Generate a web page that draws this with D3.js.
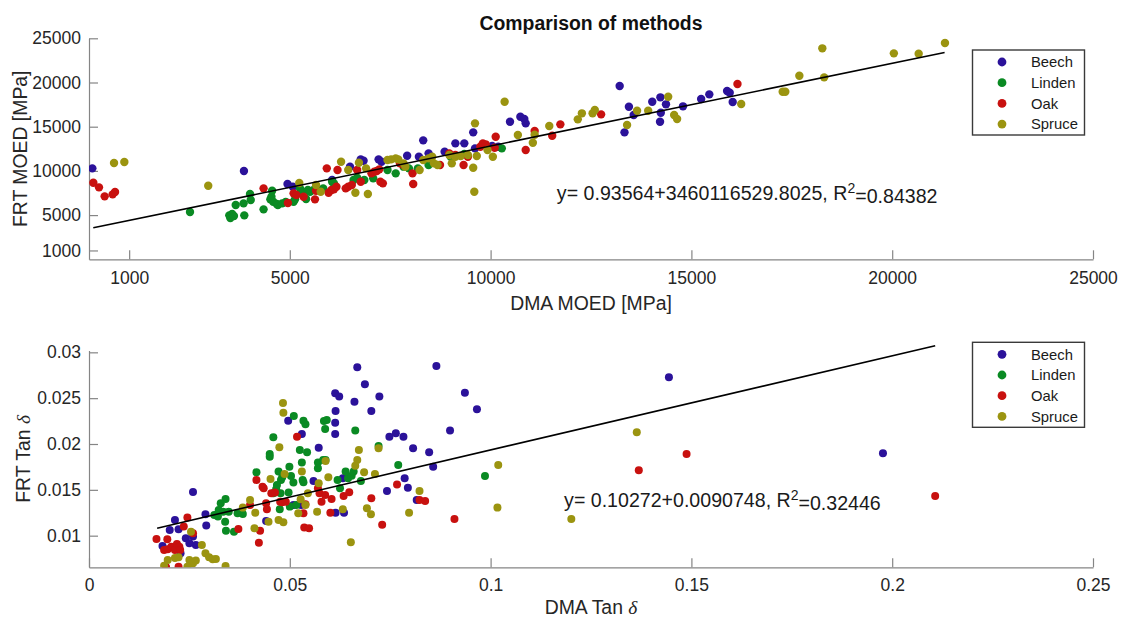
<!DOCTYPE html>
<meta charset="utf-8">
<style>
body { margin: 0; background: #fff; }
svg { font-family: "Liberation Sans", Arial, Helvetica, sans-serif; }
.axis path, .axis line { stroke: #858585; stroke-width: 1.2px; fill: none; }
.axis text { fill: #262626; font-size: 17.5px; }
.lab { fill: #262626; font-size: 19.4px; }
.eq { fill: #1a1a1a; font-size: 19.6px; }
.fit { stroke: #000; stroke-width: 1.6px; fill: none; }
.legend rect { fill: #fff; stroke: #3a3a3a; stroke-width: 1.4px; }
.legend text { fill: #1a1a1a; font-size: 14.8px; }
</style>
<body>
<script src="https://cdn.jsdelivr.net/npm/d3@7"></script>
<script>

var species = ["Beech", "Linden", "Oak", "Spruce"];
var colors = ["#2b129a", "#0a8a23", "#c8110f", "#9b9410"];

// DMA MOED vs FRT MOED [MPa]
var moedBeech = [[83,10288],[3858,9987],[4943,8516],[5076,8215],[6054,8969],[6499,10478],[6766,11306],[6837,11155],[7211,11306],[7282,11043],[7922,11721],[8215,11608],[8322,13456],[8456,11985],[8856,12174],[9123,13117],[9345,13117],[9567,14361],[9612,12551],[10039,12815],[10190,12739],[10483,15568],[10741,16134],[10839,15870],[10874,15379],[13214,19603],[13334,14361],[13444,17265],[13564,16322],[14025,17830],[14228,18321],[14238,16586],[14219,15568],[14367,17529],[14791,17303],[15243,18132],[15446,18660],[15889,19037],[15954,18849],[16028,17793]];
var moedLinden = [[2515,5348],[3493,4971],[3520,4670],[3564,5122],[3609,4896],[3653,6140],[3849,6329],[3867,4971],[4009,7385],[4027,6706],[4347,5650],[4516,6781],[4560,7762],[4587,6517],[4543,7083],[4676,6253],[4703,6140],[4809,6329],[4898,6479],[5094,6517],[5130,6781],[5254,8026],[5299,7649],[5405,6819],[5450,7838],[5503,7649],[5592,7838],[5743,7838],[5832,8026],[6054,8780],[6099,8592],[6588,8969],[6677,9232],[6855,8969],[7077,9157],[7433,10100],[7637,9723],[7833,10478],[7966,10288],[8189,10288],[8456,10665],[9007,11608],[9345,11910],[10279,12551]];
var moedOak = [[108,8667],[249,8139],[390,7121],[589,7347],[648,7611],[4347,8026],[4952,6366],[5094,7460],[5165,7272],[5343,7083],[5627,6781],[5654,7762],[5921,10288],[5966,7536],[6037,7838],[6099,7913],[6161,8215],[6188,10100],[6392,8026],[6455,8215],[6544,8403],[6677,10100],[6766,8780],[7033,9723],[7104,9911],[7166,9987],[7228,10175],[7255,8780],[7317,8592],[7744,10854],[7833,10665],[8056,9723],[8073,8516],[8740,10665],[8972,11985],[9123,11797],[9327,10665],[9434,11608],[9745,12739],[9807,13117],[9878,13004],[10127,13871],[10101,12626],[10874,12362],[11097,14512],[11534,13984],[11737,15266],[12752,16397],[16147,19829]];
var moedSpruce = [[623,10892],[880,11005],[2969,8328],[5236,8629],[5654,8403],[5770,7649],[6277,11043],[6455,10100],[6633,7536],[6721,10930],[6899,10288],[6944,7385],[7433,11231],[7522,11306],[7637,11420],[7700,11306],[7833,10854],[7878,10478],[8233,10100],[8322,11231],[8456,11420],[8545,11608],[8589,10854],[8678,10665],[8972,11797],[9034,10854],[9123,11608],[9256,11684],[9434,11797],[9567,10364],[9594,7649],[9612,15379],[9656,11684],[9923,12362],[10056,11608],[10349,17830],[10679,14060],[11052,13192],[11097,14097],[11461,15078],[12171,15832],[12273,16511],[12540,16511],[12595,16888],[13398,15191],[13647,16812],[13924,16812],[14422,18396],[14570,16322],[14644,15870],[16240,17566],[17273,18962],[17338,18962],[17688,20772],[18260,23864],[18306,20583],[20041,23298],[20659,23261],[21314,24467]];

// DMA Tan delta vs FRT Tan delta
var tanBeech = [[0.0668,0.02837],[0.0865,0.02851],[0.0687,0.02651],[0.0613,0.02553],[0.0623,0.02517],[0.0723,0.02517],[0.0661,0.02462],[0.0936,0.02560],[0.0966,0.02379],[0.0703,0.02360],[0.0614,0.02360],[0.0496,0.02255],[0.0530,0.02109],[0.0613,0.02233],[0.0613,0.02109],[0.0572,0.01960],[0.0899,0.02146],[0.0748,0.02080],[0.0764,0.02117],[0.0783,0.02080],[0.0807,0.01953],[0.0847,0.01910],[0.0857,0.01753],[0.0786,0.01626],[0.0794,0.01524],[0.0742,0.01488],[0.0816,0.01390],[0.0559,0.01597],[0.0632,0.01626],[0.0614,0.01251],[0.0635,0.01251],[0.0509,0.01335],[0.0528,0.01335],[0.0441,0.01160],[0.0290,0.01233],[0.0292,0.01110],[0.0259,0.01477],[0.0214,0.01171],[0.0201,0.01062],[0.0223,0.01070],[0.0241,0.00971],[0.0259,0.00990],[0.0183,0.00888],[0.0266,0.00899],[0.0250,0.00917],[0.0228,0.00808],[0.1444,0.02728],[0.1977,0.01898]];
var tanLinden = [[0.0510,0.02306],[0.0534,0.02255],[0.0539,0.02215],[0.0585,0.02251],[0.0592,0.02262],[0.0588,0.02164],[0.0663,0.02146],[0.0459,0.02073],[0.0450,0.01891],[0.0450,0.01862],[0.0499,0.01753],[0.0543,0.01910],[0.0525,0.01935],[0.0530,0.01797],[0.0570,0.01797],[0.0570,0.01735],[0.0583,0.01826],[0.0589,0.01826],[0.0417,0.01691],[0.0472,0.01699],[0.0481,0.01637],[0.0478,0.01608],[0.0503,0.01651],[0.0509,0.01579],[0.0468,0.01553],[0.0466,0.01506],[0.0459,0.01462],[0.0477,0.01462],[0.0497,0.01470],[0.0532,0.01608],[0.0534,0.01582],[0.0619,0.01608],[0.0625,0.01517],[0.0645,0.01626],[0.0654,0.01655],[0.0659,0.01699],[0.0721,0.01979],[0.0770,0.01771],[0.0986,0.01651],[0.0340,0.01400],[0.0328,0.01353],[0.0312,0.01226],[0.0321,0.01208],[0.0323,0.01281],[0.0334,0.01262],[0.0348,0.01262],[0.0370,0.01244],[0.0383,0.01237],[0.0339,0.01153],[0.0341,0.01055],[0.0361,0.01044],[0.0475,0.01288],[0.0500,0.01317],[0.0516,0.01335],[0.0639,0.01699],[0.0677,0.01597]];
var tanOak = [[0.0518,0.02080],[0.0417,0.01608],[0.0432,0.01535],[0.0435,0.01517],[0.0454,0.01462],[0.0463,0.01470],[0.0441,0.01353],[0.0443,0.01288],[0.0476,0.01371],[0.0481,0.01364],[0.0490,0.01371],[0.0534,0.01244],[0.0539,0.01342],[0.0536,0.01088],[0.0548,0.01080],[0.0570,0.01517],[0.0574,0.01462],[0.0579,0.01371],[0.0588,0.01444],[0.0604,0.01400],[0.0601,0.01251],[0.0634,0.01433],[0.0648,0.01473],[0.0703,0.01408],[0.0730,0.01120],[0.0767,0.01557],[0.0823,0.01390],[0.0837,0.01379],[0.0910,0.01182],[0.0372,0.01073],[0.0401,0.01335],[0.0426,0.01055],[0.0423,0.00924],[0.0245,0.01197],[0.0236,0.01099],[0.0168,0.00964],[0.0195,0.00961],[0.0187,0.00844],[0.0196,0.00852],[0.0205,0.00880],[0.0214,0.00844],[0.0219,0.00910],[0.0225,0.00880],[0.0227,0.00844],[0.0192,0.00655],[0.0223,0.00660],[0.0259,0.01026],[0.1369,0.01713],[0.1488,0.01891],[0.2107,0.01433]];
var tanSpruce = [[0.0483,0.02448],[0.0484,0.02342],[0.0474,0.01964],[0.0672,0.01935],[0.0668,0.01826],[0.0663,0.01764],[0.0721,0.01953],[0.0685,0.01691],[0.0712,0.01673],[0.0589,0.01815],[0.0596,0.01637],[0.0572,0.01571],[0.0568,0.01262],[0.0545,0.01462],[0.0539,0.01335],[0.0521,0.01244],[0.0527,0.01397],[0.0530,0.01699],[0.0487,0.01673],[0.0452,0.01619],[0.0401,0.01390],[0.0383,0.01306],[0.0414,0.01251],[0.0412,0.01080],[0.0447,0.01153],[0.0472,0.01171],[0.0484,0.01146],[0.0632,0.01288],[0.0692,0.01299],[0.0702,0.01233],[0.0797,0.01251],[0.0823,0.01488],[0.1019,0.01771],[0.1017,0.01306],[0.0652,0.00928],[0.0281,0.00899],[0.0290,0.00808],[0.0299,0.00764],[0.0308,0.00742],[0.0316,0.00746],[0.0214,0.00757],[0.0196,0.00735],[0.0187,0.00673],[0.0250,0.00735],[0.0259,0.00699],[0.0266,0.00728],[0.0245,0.00662],[0.0340,0.00670],[0.0254,0.01044],[0.0223,0.00764],[0.1364,0.02128],[0.1201,0.01182]];

// fitted lines: [slope, intercept], and the x span they cover
var moedFit = [0.93564, 3460], moedFitX = [107, 21305];
var tanFit = [0.10272, 0.0090748], tanFitX = [0.01696, 0.2107];

var moedTicks = [1000, 5000, 10000, 15000, 20000, 25000];
var tanXTicks = [0, 0.05, 0.1, 0.15, 0.2, 0.25];
var tanYTicks = [0.01, 0.015, 0.02, 0.025, 0.03];

var svg = d3.select("body").append("svg")
    .attr("width", 1121)
    .attr("height", 619);

svg.append("text")
    .attr("x", 591).attr("y", 30)
    .attr("text-anchor", "middle")
    .style("font-size", "19.4px").style("font-weight", "bold").style("fill", "#111")
    .text("Comparison of methods");

function panel(o) {
  var x = d3.scaleLinear().domain(o.xd).range([89, 1093]);
  var y = d3.scaleLinear().domain(o.yd).range(o.yr);
  var g = svg.append("g");

  g.append("clipPath").attr("id", o.id)
    .append("rect")
    .attr("x", 89).attr("y", o.yr[1])
    .attr("width", 1004).attr("height", o.yr[0] - o.yr[1]);

  g.append("g")
      .attr("class", "axis")
      .attr("transform", "translate(0," + o.yr[0] + ")")
      .call(d3.axisBottom(x).tickValues(o.xt).tickFormat(d3.format("")).tickSizeInner(-9).tickSizeOuter(0).tickPadding(o.xpad));

  g.append("g")
      .attr("class", "axis")
      .attr("transform", "translate(89,0)")
      .call(d3.axisLeft(y).tickValues(o.yt).tickFormat(d3.format("")).tickSizeInner(-9).tickSizeOuter(0).tickPadding(8));

  var pts = g.append("g").attr("clip-path", "url(#" + o.id + ")");
  o.series.forEach(function(s, i) {
    pts.selectAll(null)
        .data(s)
      .enter().append("circle")
        .attr("cx", function(d) { return x(d[0]); })
        .attr("cy", function(d) { return y(d[1]); })
        .attr("r", o.r)
        .attr("fill", colors[i]);
  });

  g.append("line")
      .attr("class", "fit")
      .attr("x1", x(o.fx[0])).attr("y1", y(o.fit[1] + o.fit[0] * o.fx[0]))
      .attr("x2", x(o.fx[1])).attr("y2", y(o.fit[1] + o.fit[0] * o.fx[1]));

  var eq = g.append("text")
      .attr("class", "eq")
      .attr("x", x(o.eqAt[0])).attr("y", y(o.eqAt[1]))
      .attr("dy", "0.36em");
  eq.append("tspan").text(o.eq[0]);
  eq.append("tspan").attr("dy", "-0.5em").style("font-size", "14px").text("2");
  eq.append("tspan").attr("dy", "0.5em").text("=" + o.eq[1]);

  // axis labels
  var xl = g.append("text").attr("class", "lab")
      .attr("x", 591).attr("y", o.xly).attr("text-anchor", "middle");
  xl.append("tspan").text(o.xl[0]);
  if (o.xl[1]) xl.append("tspan").style("font-family", "'Liberation Serif', serif").style("font-style", "italic").text(o.xl[1]);

  var ymid = (o.yr[0] + o.yr[1]) / 2;
  var yl = g.append("text").attr("class", "lab")
      .attr("transform", "translate(" + o.ylx + "," + ymid + ") rotate(-90)")
      .attr("text-anchor", "middle");
  yl.append("tspan").text(o.yl[0]);
  if (o.yl[1]) yl.append("tspan").style("font-family", "'Liberation Serif', serif").style("font-style", "italic").text(o.yl[1]);

  // legend
  var lg = g.append("g").attr("class", "legend");
  lg.append("rect")
      .attr("x", 972.5).attr("y", o.legTop)
      .attr("width", 112).attr("height", 85);
  species.forEach(function(name, i) {
    var cy = o.legTop + 12 + i * 20.7;
    lg.append("circle").attr("cx", 1002).attr("cy", cy).attr("r", 4.4).attr("fill", colors[i]);
    lg.append("text").attr("x", 1031).attr("y", cy).attr("dy", "0.36em").text(name);
  });
}

panel({
  id: "clipTop",
  xd: [0, 25000], yd: [0, 25000], yr: [259.3, 38.3],
  xt: moedTicks, yt: moedTicks, xpad: 12,
  series: [moedBeech, moedLinden, moedOak, moedSpruce], r: 4.2,
  fit: moedFit, fx: moedFitX,
  eqAt: [11650, 7450], eq: ["y= 0.93564+3460116529.8025, R", "0.84382"],
  xl: ["DMA MOED [MPa]"], xly: 310,
  yl: ["FRT MOED [MPa]"], ylx: 26.5,
  legTop: 50
});

panel({
  id: "clipBot",
  xd: [0, 0.25], yd: [0.00655, 0.0302], yr: [567.3, 350.5],
  xt: tanXTicks, yt: tanYTicks, xpad: 11,
  series: [tanBeech, tanLinden, tanOak, tanSpruce], r: 4,
  fit: tanFit, fx: tanFitX,
  eqAt: [0.1183, 0.01389], eq: ["y= 0.10272+0.0090748, R", "0.32446"],
  xl: ["DMA Tan ", "\u03b4"], xly: 614,
  yl: ["FRT Tan ", "\u03b4"], ylx: 30,
  legTop: 342.3
});

</script>
